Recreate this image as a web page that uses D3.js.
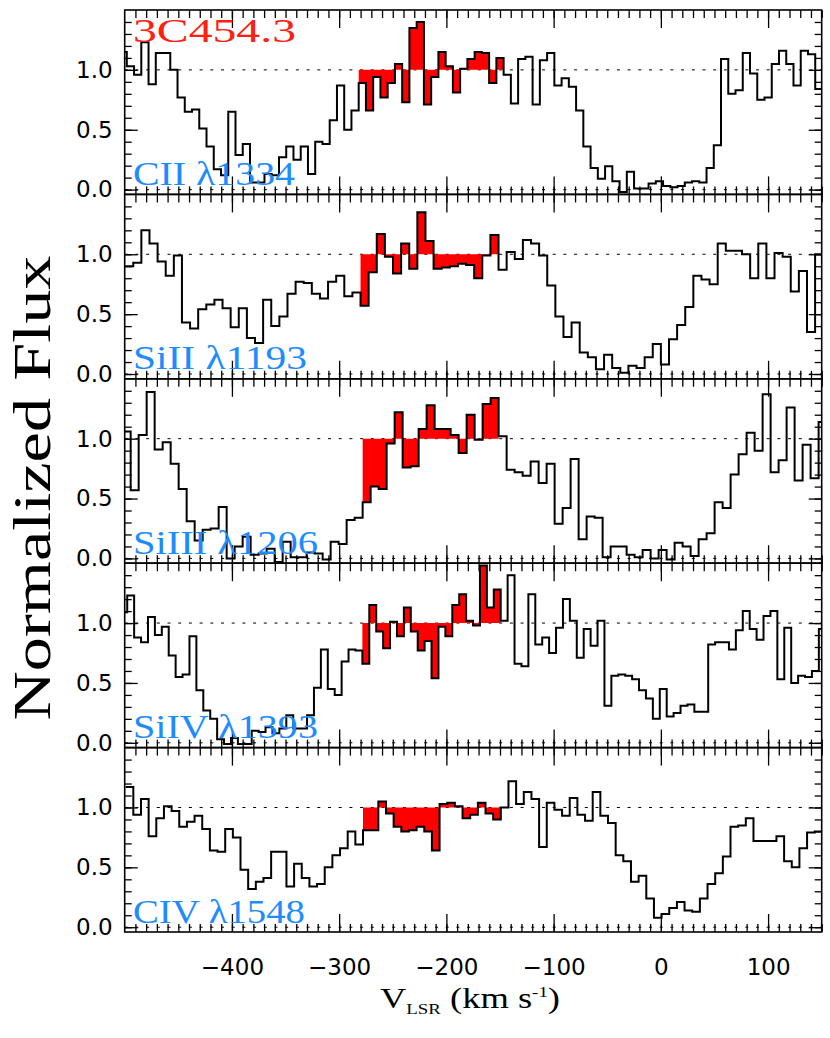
<!DOCTYPE html>
<html>
<head>
<meta charset="utf-8">
<script src="https://cdn.jsdelivr.net/npm/d3@7"></script>
<style>
body { margin: 0; background: #fff; }
text { white-space: pre; }
</style>
</head>
<body>
<div id="chart"></div>
<script>
// ---- data --------------------------------------------------------------------
const target = '3C454.3';
const lineNames = ['CII λ1334', 'SiII λ1193', 'SiIII λ1206', 'SiIV λ1393', 'CIV λ1548'];

// velocity bins: left edge of the first bin and bin width (km/s)
const binStart = [-504.8, -499.6, -501.9, -504.1, -499.1];
const binWidth = [6.758, 7.57, 7.46, 6.45, 7.14];

const fluxCII = [1.15, 1.03, 0.96, 1.23, 0.88, 1.14, 1.14, 1.00, 0.77, 0.65, 0.67, 0.51, 0.36, 0.17, 0.12, 0.65,
  0.29, 0.38, 0.06, 0.06, 0.13, 0.12, 0.27, 0.36, 0.25, 0.36, 0.13, 0.40, 0.38, 0.58, 0.87, 0.50, 0.66,
  0.89, 0.66, 0.94, 0.77, 0.89, 1.05, 0.73, 1.35, 1.40, 0.71, 0.94, 1.15, 1.03, 0.81, 1.01, 1.09, 1.15, 1.14,
  0.89, 1.10, 0.96, 0.72, 1.09, 1.11, 0.71, 1.08, 1.14, 0.87, 0.93, 0.86, 0.66, 0.36, 0.18, 0.09, 0.195, 0.07,
  -0.02, 0.15, 0.01, 0.01, 0.05, 0.07, 0.03, 0.02, 0.03, 0.06, 0.07, 0.06, 0.18, 0.37, 1.09, 0.80, 0.83, 1.14,
  0.97, 0.75, 0.77, 1.05, 1.16, 1.05, 0.87, 1.16, 1.13, 0.84, 0.91];

const fluxSiII = [0.90, 0.93, 1.20, 1.09, 0.94, 0.82, 0.99, 0.43, 0.38, 0.54, 0.58, 0.62, 0.55, 0.39, 0.55, 0.30,
  0.26, 0.62, 0.40, 0.48, 0.67, 0.77, 0.76, 0.67, 0.63, 0.77, 0.82, 0.65, 0.68,
  0.57, 0.85, 1.17, 0.98, 0.84, 1.09, 0.88, 1.35, 1.11, 0.88, 0.89, 0.90, 0.92, 0.91, 0.80, 0.99, 1.16,
  0.87, 1.02, 0.96, 1.12, 1.09, 0.99, 0.74, 0.48, 0.31, 0.43, 0.18, 0.14, 0.04, 0.16, 0.05, 0.01, 0.07, 0.05,
  0.14, 0.25, 0.08, 0.29, 0.41, 0.56, 0.82, 0.79, 0.75, 1.09, 1.03, 1.03, 1.00, 0.80, 1.09, 0.80, 1.01, 0.98,
  0.69, 0.86, 0.35, 1.00];

const fluxSiIII = [1.06, 0.57, 1.03, 1.39, 0.91, 0.97, 0.79, 0.58, 0.31, 0.15, 0.24, 0.25, 0.43, 0.00, 0.10, 0.18,
  0.03, 0.04, 0.08, -0.03, 0.14, 0.01, 0.01, 0.05, 0.04, -0.01, 0.14, 0.12, 0.32, 0.34,
  0.47, 0.60, 0.58, 0.96, 1.22, 0.76, 0.77, 1.08, 1.28, 1.08, 1.08, 1.03, 0.88, 1.20, 0.99, 1.29, 1.34,
  1.02, 0.74, 0.72, 0.69, 0.81, 0.63, 0.79, 0.29, 0.42, 0.83, 0.16, 0.35, 0.34, 0.01, 0.10, 0.10, 0.03, 0.01,
  0.07, 0.00, 0.07, -0.01, 0.13, 0.10, 0.02, 0.16, 0.21, 0.47, 0.42, 0.70, 0.87, 1.05, 0.90, 1.37, 0.72, 0.82,
  1.26, 0.65, 0.95, 0.67, 1.14];

const fluxSiIV = [1.09, 1.23, 0.88, 0.84, 1.05, 0.90, 0.97, 0.73, 0.55, 0.57, 0.89, 0.44, 0.27, 0.20, 0.03, -0.01,
  0.04, -0.01, -0.01, 0.10, 0.09, 0.13, 0.08, 0.12, 0.23, 0.12, 0.12, 0.23, 0.46, 0.78, 0.45, 0.40, 0.68, 0.78, 0.77,
  0.66, 1.15, 0.93, 0.79, 1.01, 0.89, 1.13, 0.93, 0.77, 0.85, 0.54, 0.97, 0.89, 1.15, 1.24, 1.02, 0.98, 1.48,
  1.13, 1.28,
  1.02, 1.40, 0.66, 0.64, 1.24, 0.82, 0.88, 0.75, 0.96, 1.20, 1.02, 0.71, 0.95, 0.81, 1.02, 0.31, 0.56, 0.57,
  0.56, 0.53, 0.44, 0.37, 0.20, 0.45, 0.22, 0.25, 0.31, 0.32, 0.26, 0.26, 0.82, 0.84, 0.84, 0.78, 0.94, 1.10,
  0.95, 0.86, 1.06, 1.10, 0.53, 0.96, 0.50, 0.56, 0.55, 0.60, 0.95];

const fluxCIV = [1.17, 0.94, 1.07, 0.76, 0.91, 1.01, 0.97, 0.84, 0.88, 0.93, 0.82, 0.64, 0.63, 0.82, 0.75, 0.48,
  0.32, 0.38, 0.41, 0.63, 0.63, 0.34, 0.53, 0.41, 0.34, 0.36, 0.50, 0.60, 0.66, 0.80, 0.69,
  0.81, 0.81, 1.05, 0.95, 0.84, 0.80, 0.81, 0.84, 0.80, 0.64, 1.03, 1.04, 1.01, 0.91, 0.94, 1.04, 0.95, 0.90,
  1.00, 1.22, 1.03, 1.13, 1.07, 0.67, 1.04, 0.98, 0.93, 1.08, 0.94, 0.89, 1.13, 0.93, 0.87, 0.60, 0.55, 0.38,
  0.43, 0.24, 0.08, 0.11, 0.16, 0.21, 0.14, 0.13, 0.24, 0.36, 0.45, 0.59, 0.84, 0.85, 0.91, 0.72, 0.72, 0.72,
  0.76, 0.55, 0.50, 0.66, 0.79, 0.80];

const fluxes = [fluxCII, fluxSiII, fluxSiIII, fluxSiIV, fluxCIV];

// velocity window shaded in red
const shadeRange = [-280, -149.5];

const xTicks = [-400, -300, -200, -100, 0, 100];
const xMinorTicks = d3.range(-490, 151, 10);
const yTicks = [0.0, 0.5, 1.0];
const yMinorTicks = d3.range(0, 1.45, 0.1);

// ---- layout -------------------------------------------------------------------
const width = 830;
const height = 1038;
const plotLeft = 124.7, plotRight = 821.7, plotTop = 10, panelH = 184.4;
const labelWidths = [162, 174, 185, 185, 172];

const x = d3.scaleLinear().domain([-500, 150]).range([plotLeft, plotRight]);

const svg = d3.select('#chart').append('svg')
    .attr('width', width).attr('height', height)
    .style('display', 'block');

const defs = svg.append('defs');

fluxes.forEach((flux, k) => {
    const top = plotTop + k * panelH;
    const y = d3.scaleLinear().domain([-0.04, 1.5]).range([top + panelH, top]);
    const g = svg.append('g');

    defs.append('clipPath').attr('id', 'clip' + k)
        .append('rect')
        .attr('x', plotLeft).attr('y', top)
        .attr('width', plotRight - plotLeft).attr('height', panelH);

    // bins -> step points
    const bins = flux.map((f, i) => ({v: binStart[k] + i * binWidth[k], f: f}));
    const steps = bins.concat([{v: bins[bins.length - 1].v + binWidth[k], f: flux[flux.length - 1]}]);

    // dashed reference lines
    g.selectAll('line.ref').data([0, 1]).enter().append('line')
        .attr('x1', plotLeft).attr('x2', plotRight)
        .attr('y1', d => y(d)).attr('y2', d => y(d))
        .attr('stroke', '#000').attr('stroke-width', 1)
        .attr('stroke-dasharray', '3,7.7');

    // red shading between spectrum and continuum
    const shaded = bins.filter(b => {
        const c = b.v + binWidth[k] / 2;
        return c >= shadeRange[0] && c <= shadeRange[1];
    });
    const shadePts = shaded.concat([{v: shaded[shaded.length - 1].v + binWidth[k], f: shaded[shaded.length - 1].f}]);
    g.append('path')
        .attr('clip-path', `url(#clip${k})`)
        .attr('fill', '#ff0000')
        .attr('d', d3.area()
            .curve(d3.curveStepAfter)
            .x(d => x(d.v))
            .y0(y(1))
            .y1(d => y(d.f))(shadePts));

    // spectrum
    g.append('path')
        .attr('clip-path', `url(#clip${k})`)
        .attr('fill', 'none')
        .attr('stroke', '#000')
        .attr('stroke-width', 2)
        .attr('d', d3.line()
            .curve(d3.curveStepAfter)
            .x(d => x(d.v))
            .y(d => y(d.f))(steps));

    // ticks on all four sides, pointing inwards
    const bottom = top + panelH;
    const isLast = k === fluxes.length - 1;
    const tickStyle = sel => {
        sel.select('.domain').remove();
        sel.selectAll('line').attr('stroke', '#000').attr('stroke-width', 1.3);
        sel.selectAll('text').attr('font-family', '"DejaVu Sans", sans-serif')
            .attr('font-size', 23).attr('fill', '#000');
    };

    g.append('g').attr('transform', `translate(0,${bottom})`)
        .call(d3.axisBottom(x).tickValues(xMinorTicks).tickSize(-8).tickFormat(''))
        .call(tickStyle);
    g.append('g').attr('transform', `translate(0,${bottom})`)
        .call(d3.axisBottom(x).tickValues(xTicks).tickSize(-18).tickPadding(27)
            .tickFormat(isLast ? d3.format('d') : ''))
        .call(tickStyle);
    g.append('g').attr('transform', `translate(0,${top})`)
        .call(d3.axisTop(x).tickValues(xMinorTicks).tickSize(-8).tickFormat(''))
        .call(tickStyle);
    g.append('g').attr('transform', `translate(0,${top})`)
        .call(d3.axisTop(x).tickValues(xTicks).tickSize(-18).tickFormat(''))
        .call(tickStyle);

    g.append('g').attr('transform', `translate(${plotLeft},0)`)
        .call(d3.axisLeft(y).tickValues(yMinorTicks).tickSize(-7).tickFormat(''))
        .call(tickStyle);
    g.append('g').attr('transform', `translate(${plotLeft},0)`)
        .call(d3.axisLeft(y).tickValues(yTicks).tickSize(-13).tickPadding(12).tickFormat(d3.format('.1f')))
        .call(tickStyle);
    g.append('g').attr('transform', `translate(${plotRight},0)`)
        .call(d3.axisRight(y).tickValues(yMinorTicks).tickSize(-7).tickFormat(''))
        .call(tickStyle);
    g.append('g').attr('transform', `translate(${plotRight},0)`)
        .call(d3.axisRight(y).tickValues(yTicks).tickSize(-13).tickFormat(''))
        .call(tickStyle);

    // frame
    g.append('rect')
        .attr('x', plotLeft).attr('y', top)
        .attr('width', plotRight - plotLeft).attr('height', panelH)
        .attr('fill', 'none').attr('stroke', '#000').attr('stroke-width', 1.6);

    // line label
    g.append('text')
        .attr('x', 133).attr('y', top + 175)
        .attr('font-family', '"Liberation Serif", serif')
        .attr('font-size', 33)
        .attr('fill', '#1e8cff')
        .attr('textLength', labelWidths[k])
        .attr('lengthAdjust', 'spacingAndGlyphs')
        .text(lineNames[k]);
});

// target name
svg.append('text')
    .attr('x', 133).attr('y', 42)
    .attr('font-family', '"Liberation Serif", serif')
    .attr('font-size', 33)
    .attr('fill', '#ff2010')
    .attr('textLength', 163)
    .attr('lengthAdjust', 'spacingAndGlyphs')
    .text(target);

// y axis title
svg.append('text')
    .attr('transform', 'translate(50,488) rotate(-90)')
    .attr('text-anchor', 'middle')
    .attr('font-family', '"Liberation Serif", serif')
    .attr('font-size', 53)
    .attr('fill', '#000')
    .attr('textLength', 465)
    .attr('lengthAdjust', 'spacingAndGlyphs')
    .text('Normalized Flux');

// x axis title
const xt = svg.append('text')
    .attr('x', 380).attr('y', 1008)
    .attr('font-family', '"Liberation Serif", serif')
    .attr('font-size', 29)
    .attr('fill', '#000')
    .attr('textLength', 180)
    .attr('lengthAdjust', 'spacingAndGlyphs');
xt.append('tspan').text('V');
xt.append('tspan').attr('font-size', 15).attr('dy', 6).text('LSR');
xt.append('tspan').attr('dy', -6).text(' (km s');
xt.append('tspan').attr('font-size', 15).attr('dy', -11).text('-1');
xt.append('tspan').attr('dy', 11).text(')');
</script>
</body>
</html>
